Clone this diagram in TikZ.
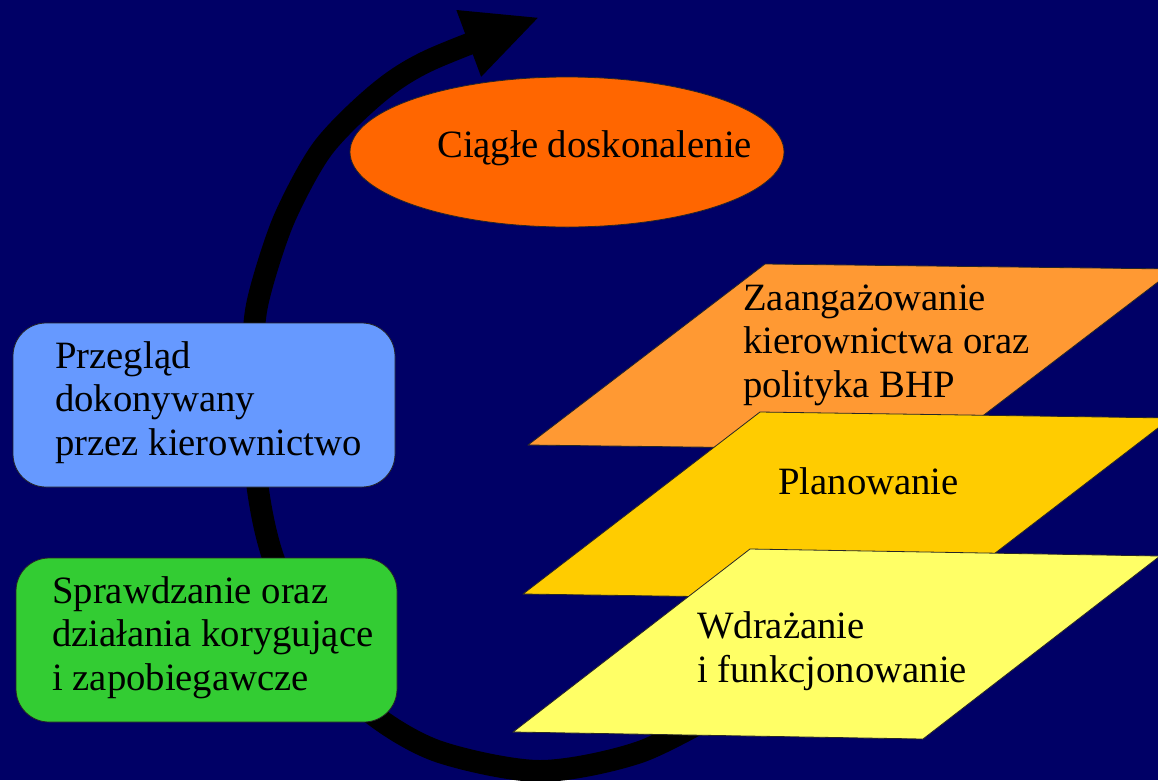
\documentclass[tikz,border=0pt]{standalone}
\usepackage{fontspec}
\setmainfont{Liberation Serif}
\usetikzlibrary{arrows.meta}

\definecolor{tlo}{HTML}{000066}
\definecolor{niebieski}{HTML}{6699FF}
\definecolor{zielony}{HTML}{33CC33}
\definecolor{pomaranczowy}{HTML}{FF6600}
\definecolor{jasnopom}{HTML}{FF9933}
\definecolor{zloty}{HTML}{FFCC00}
\definecolor{zolty}{HTML}{FFFF66}

\tikzset{
  napis/.style={anchor=base west, align=left, inner sep=0pt, font=\fontsize{38.7}{43.5}\selectfont},
  ramka/.style={draw=black!85, line width=0.8pt, rounded corners=33pt},
  plaszczyzna/.style={draw=black!85, line width=0.8pt},
}

\begin{document}
\begin{tikzpicture}[x=1pt,y=-1pt]
\useasboundingbox (0,0) rectangle (1158,780);
\fill[tlo] (0,0) rectangle (1158,780);
\clip (0,0) rectangle (1158,780);

\draw[line width=22pt, -{Triangle[length=76pt,width=65pt]}] plot[smooth] coordinates {(730,706) (640,752) (540,771) (440,752) (375,716) (318,660) (274,560) (258,490) (254,420) (254,330) (262,285) (285,217) (323,148) (378,93) (430,60) (540,17)};

\filldraw[plaszczyzna, fill=pomaranczowy] (567,152) ellipse [x radius=217pt, y radius=75pt];
\node[napis] (ciagle) at (437,157) {Ciągłe doskonalenie};

\filldraw[ramka, fill=niebieski] (13,323) rectangle (395,487);
\node[napis] (przeglad) at (55,455) {Przegląd\\dokonywany\\przez kierownictwo};

\filldraw[ramka, fill=zielony] (16,558) rectangle (397,722);
\node[napis] (sprawdzanie) at (52,690) {Sprawdzanie oraz\\działania korygujące\\i zapobiegawcze};

\filldraw[plaszczyzna, fill=jasnopom] (528,445) -- (765,264) -- (1175,269) -- (938,450) -- cycle;
\node[napis] (zaangazowanie) at (743,397) {Zaangażowanie\\kierownictwa oraz\\polityka BHP};

\filldraw[plaszczyzna, fill=zloty] (523,594) -- (760,412) -- (1171,418) -- (934,600) -- cycle;
\node[napis] (planowanie) at (778,494) {Planowanie};

\filldraw[plaszczyzna, fill=zolty] (513,732) -- (750,549) -- (1160,556) -- (923,739) -- cycle;
\node[napis] (wdrazanie) at (697,682) {Wdrażanie\\i funkcjonowanie};
\end{tikzpicture}
\end{document}
